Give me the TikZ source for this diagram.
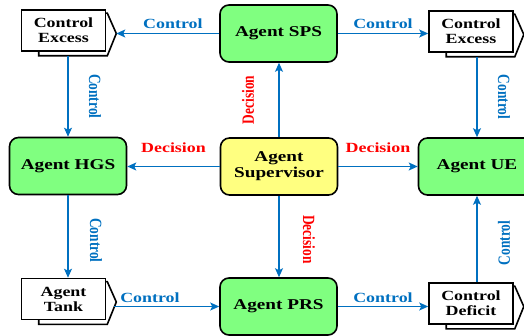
\documentclass[tikz,border=0pt]{standalone}
\usepackage{fontspec}
\setmainfont{Liberation Serif}
\newfontfamily\widefont[FakeStretch=1.28]{Liberation Serif}
\usetikzlibrary{arrows.meta,calc,backgrounds}
\definecolor{cblue}{RGB}{0,112,192}
\definecolor{cgreen}{RGB}{128,255,128}
\definecolor{cyellow}{RGB}{255,255,128}
\definecolor{cred}{RGB}{255,0,0}
\newcommand\bkshape[1]{%
  \coordinate (#1-tip) at ($(#1.east)+(10,3)$);
  \coordinate (#1-bot) at ($(#1.south)+(0,4)$);
  \begin{scope}[on background layer]
    \draw[line width=1.6pt, fill=white, line join=miter]
      ($(#1.south west)+(18,4)$) -- ($(#1.south east)+(1,4)$) -- (#1-tip)
      -- ($(#1.north east)+(1,4)$) -- ($(#1.north west)+(18,4)$) -- cycle;
  \end{scope}}
\begin{document}
\begin{tikzpicture}[x=1pt,y=-1pt,
  agent/.style={draw=black, line width=1.6pt, rounded corners=9pt, fill=cgreen,
    minimum width=117pt, minimum height=57pt, inner sep=0pt, align=center,
    font=\widefont\bfseries\fontsize{15}{16}\selectfont},
  super/.style={agent, fill=cyellow},
  sbox/.style={draw=black, line width=1.6pt, fill=white, minimum width=84pt,
    minimum height=41pt, inner sep=0pt, align=center,
    font=\widefont\bfseries\fontsize{14}{15}\selectfont},
  arr/.style={draw=cblue, line width=1.3pt, -{Stealth[length=9pt,width=8pt,inset=2pt]}},
  hlab/.style={font=\widefont\bfseries\fontsize{14}{16}\selectfont, inner sep=0pt},
  ctl/.style={hlab, text=cblue},
  dec/.style={hlab, text=cred},
  vlab/.style={font=\bfseries\fontsize{13.4}{15}\selectfont, inner sep=0pt},
  vctl/.style={vlab, text=cblue},
  vdec/.style={vlab, text=cred}
]
\useasboundingbox (0,0) rectangle (524,336);

\node[agent] (sps) at (278.5,33.5) {Agent SPS};
\node[super] (sup) at (279,166.5) {Agent\\Supervisor};
\node[agent] (hgs) at (68,166) {Agent HGS};
\node[agent] (ue) at (477,166.5) {Agent UE};
\node[agent] (prs) at (278.5,306.5) {Agent PRS};

\node[sbox] (tl) at (63.5,30.5) {Control\\Excess};
\node[sbox] (tr) at (471,31.5) {Control\\Excess};
\node[sbox] (tank) at (63.5,299) {Agent\\Tank};
\node[sbox] (def) at (471,303.5) {Control\\Deficit};
\bkshape{tl}
\bkshape{tr}
\bkshape{tank}
\bkshape{def}

% horizontal connectors
\draw[arr] (sps.west) -- (tl-tip)
  node[ctl, pos=0.45, anchor=base, yshift=5pt] (l1) {Control};
\draw[arr] (sps.east) -- (sps.east -| tr.west)
  node[ctl, midway, anchor=base, yshift=5pt] (l2) {Control};
\draw[arr] (sup.west) -- (sup.west -| hgs.east)
  node[dec, midway, anchor=base, yshift=14pt] (l3) {Decision};
\draw[arr] (sup.east) -- (sup.east -| ue.west)
  node[dec, midway, anchor=base, yshift=14pt] (l4) {Decision};
\draw[arr] ($(tank-tip |- prs.west)+(-2,0)$) -- (prs.west)
  node[ctl, pos=0.34, anchor=base, yshift=4pt] (l5) {Control};
\draw[arr] (prs.east) -- (prs.east -| def.west)
  node[ctl, midway, anchor=base, yshift=4pt] (l6) {Control};

% vertical connectors
\draw[arr] (hgs.north |- tl-bot) -- (hgs.north);
\draw[arr] (ue.north |- tr-bot) -- (ue.north);
\draw[arr] (sup.north) -- (sup.north |- sps.south);
\draw[arr] (sup.south) -- (sup.south |- prs.north);
\draw[arr] (hgs.south) -- (hgs.south |- tank.north);
\draw[arr] (ue.south |- def.north) -- (ue.south);

\node[vctl, rotate=-90, yscale=1.28] (v1) at ($(hgs.north |- tl-bot)!0.5!(hgs.north)+(27,0)$) {Control};
\node[vctl, rotate=-90, yscale=1.28] (v2) at ($(ue.north |- tr-bot)!0.5!(ue.north)+(27,0)$) {Control};
\node[vctl, rotate=-90, yscale=1.28] (v3) at ($(hgs.south)!0.5!(hgs.south |- tank.north)+(28,4)$) {Control};
\node[vctl, rotate=90, yscale=1.28] (v4) at ($(ue.south |- def.north)!0.5!(ue.south)+(27,4)$) {Control};
\node[vdec, rotate=90, yscale=1.28] (v5) at ($(sup.north)!0.5!(sup.north |- sps.south)+(-31,0)$) {Decision};
\node[vdec, rotate=-90, yscale=1.28] (v6) at ($(sup.south)!0.5!(sup.south |- prs.north)+(30,3)$) {Decision};
\end{tikzpicture}
\end{document}
